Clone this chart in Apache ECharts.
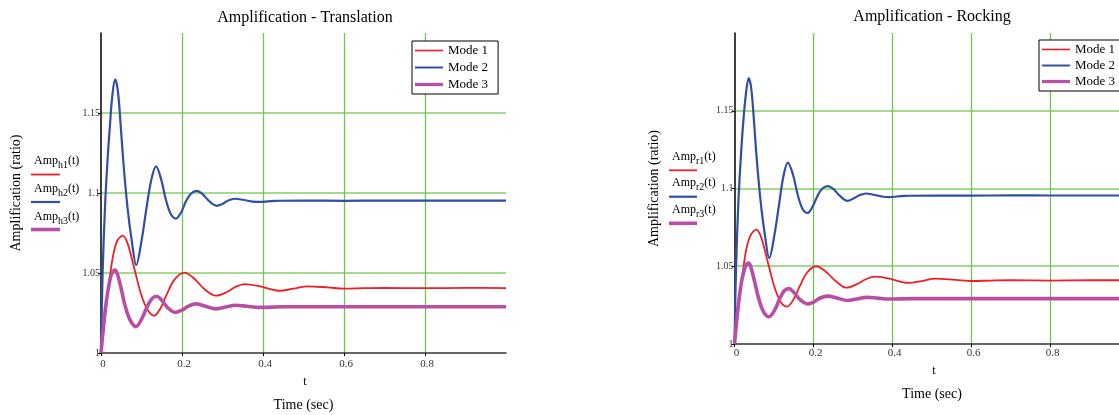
<!DOCTYPE html>
<html>
<head>
<meta charset="utf-8">
<script src="https://cdn.jsdelivr.net/npm/echarts@6/dist/echarts.min.js"></script>
<style>
html, body { margin: 0; padding: 0; background: #fff; }
#chart { width: 1119px; height: 415px; }
</style>
</head>
<body>
<div id="chart"></div>
<script>
// legend names + tick labels
const modeNames = ['Mode 1', 'Mode 2', 'Mode 3'];
const xTickLabels = [0, 0.2, 0.4, 0.6, 0.8];
const yTickLabels = [1, 1.05, 1.1, 1.15];

// Amplification - Translation, [t, amp]
const transMode1 = [[0,1],[0.008,1.018],[0.015,1.034],[0.022,1.048],[0.03,1.061],[0.04,1.07],[0.054,1.0733],[0.065,1.069],[0.075,1.06],[0.086,1.049],[0.1,1.036],[0.115,1.027],[0.131,1.0233],[0.147,1.028],[0.163,1.037],[0.182,1.046],[0.206,1.0502],[0.228,1.047],[0.255,1.04],[0.284,1.0358],[0.31,1.038],[0.333,1.0415],[0.355,1.0431],[0.39,1.0418],[0.44,1.0389],[0.475,1.0402],[0.51,1.0417],[0.56,1.041],[0.6,1.0402],[0.65,1.0405],[0.7,1.0407],[0.8,1.0405],[0.9,1.0407],[1,1.0406]];
const transMode2 = [[0,1],[0.004,1.05],[0.01,1.092],[0.016,1.12],[0.022,1.142],[0.028,1.161],[0.035,1.171],[0.041,1.165],[0.047,1.148],[0.055,1.12],[0.065,1.092],[0.076,1.07],[0.087,1.055],[0.1,1.07],[0.112,1.09],[0.124,1.108],[0.136,1.1166],[0.148,1.109],[0.16,1.096],[0.172,1.087],[0.185,1.084],[0.198,1.088],[0.21,1.095],[0.222,1.0995],[0.236,1.1013],[0.25,1.0995],[0.262,1.0962],[0.275,1.0932],[0.286,1.092],[0.3,1.0932],[0.314,1.0953],[0.33,1.0964],[0.35,1.0958],[0.37,1.0948],[0.39,1.0944],[0.43,1.0951],[0.5,1.0953],[0.6,1.0951],[0.7,1.0953],[0.8,1.0952],[0.9,1.0953],[1,1.0952]];
const transMode3 = [[0,1],[0.006,1.016],[0.012,1.03],[0.02,1.043],[0.027,1.05],[0.035,1.0518],[0.042,1.048],[0.05,1.04],[0.06,1.029],[0.072,1.0205],[0.086,1.0165],[0.1,1.021],[0.114,1.029],[0.126,1.034],[0.137,1.0355],[0.15,1.033],[0.165,1.0282],[0.184,1.0254],[0.2,1.0268],[0.216,1.0293],[0.234,1.0307],[0.258,1.0292],[0.284,1.0276],[0.308,1.0287],[0.332,1.0298],[0.36,1.0292],[0.39,1.0285],[0.45,1.0289],[0.55,1.0289],[0.7,1.0289],[0.85,1.0289],[1,1.0289]];

// Amplification - Rocking, [t, amp]
const rockMode1 = [[0,1],[0.008,1.018],[0.015,1.034],[0.022,1.048],[0.03,1.061],[0.041,1.07],[0.056,1.0736],[0.067,1.069],[0.077,1.06],[0.088,1.049],[0.102,1.036],[0.117,1.027],[0.133,1.024],[0.149,1.0285],[0.165,1.037],[0.184,1.046],[0.207,1.05],[0.229,1.047],[0.256,1.0405],[0.284,1.0362],[0.31,1.0385],[0.334,1.0418],[0.357,1.0433],[0.392,1.042],[0.44,1.0393],[0.475,1.0405],[0.508,1.042],[0.56,1.0412],[0.6,1.0405],[0.65,1.0408],[0.7,1.041],[0.8,1.0408],[0.9,1.041],[1,1.041]];
const rockMode2 = [[0,1],[0.004,1.05],[0.01,1.092],[0.016,1.12],[0.022,1.142],[0.029,1.161],[0.036,1.171],[0.042,1.165],[0.048,1.148],[0.056,1.12],[0.066,1.092],[0.077,1.07],[0.088,1.0553],[0.101,1.07],[0.113,1.09],[0.124,1.108],[0.135,1.1167],[0.148,1.109],[0.16,1.096],[0.172,1.087],[0.185,1.0843],[0.198,1.0885],[0.21,1.0952],[0.222,1.0998],[0.236,1.1015],[0.25,1.0998],[0.262,1.0965],[0.275,1.0934],[0.286,1.0921],[0.3,1.0934],[0.316,1.0956],[0.333,1.0968],[0.352,1.096],[0.372,1.0949],[0.39,1.0944],[0.43,1.0953],[0.5,1.0955],[0.6,1.0954],[0.7,1.0956],[0.8,1.0955],[0.9,1.0955],[1,1.0955]];
const rockMode3 = [[0,1],[0.006,1.016],[0.012,1.03],[0.02,1.043],[0.028,1.05],[0.036,1.052],[0.043,1.048],[0.051,1.04],[0.061,1.0295],[0.073,1.021],[0.087,1.0175],[0.101,1.0215],[0.115,1.0295],[0.126,1.0342],[0.137,1.0356],[0.15,1.0333],[0.166,1.0285],[0.186,1.0258],[0.202,1.0272],[0.217,1.0296],[0.236,1.0308],[0.26,1.0295],[0.286,1.028],[0.31,1.029],[0.335,1.03],[0.362,1.0295],[0.39,1.0289],[0.45,1.0292],[0.55,1.0292],[0.7,1.0292],[0.85,1.0292],[1,1.0292]];

const serif = "'Liberation Serif', 'Times New Roman', serif";
const colors = ['#ee1f26', '#2f4fa6', '#b94fa5'];
const widths = [1.8, 2.2, 3.6];

const chart = echarts.init(document.getElementById('chart'));

function xAxisFor(gi, labelMargin, nameGap) {
  return {
    type: 'value', gridIndex: gi, min: 0, max: 1, interval: 0.2,
    name: 'Time (sec)', nameLocation: 'middle', nameGap: nameGap,
    nameTextStyle: { fontFamily: serif, fontSize: 14, color: '#000' },
    axisLine: { show: true, onZero: false, lineStyle: { color: '#333', width: 1.5 } },
    axisTick: { show: true, length: 3, customValues: xTickLabels, lineStyle: { color: '#000' } },
    axisLabel: {
      fontFamily: serif, fontSize: 11, color: '#333', margin: labelMargin, padding: [0, 0, 0, 4],
      customValues: xTickLabels,
      formatter: v => String(+(+v).toFixed(2))
    },
    splitLine: { show: true, showMinLine: false, lineStyle: { color: '#72c452', width: 1.3 } }
  };
}

function yAxisFor(gi, nameGap) {
  return {
    type: 'value', gridIndex: gi, min: 1, max: 1.2, interval: 0.05,
    name: 'Amplification (ratio)', nameLocation: 'middle', nameGap: nameGap, nameRotate: 90,
    nameTextStyle: { fontFamily: serif, fontSize: 14, color: '#000' },
    axisLine: { show: true, onZero: false, lineStyle: { color: '#000', width: 1.5 } },
    axisTick: { show: true, length: 3, customValues: yTickLabels, lineStyle: { color: '#000' } },
    axisLabel: {
      fontFamily: serif, fontSize: 10, color: '#333', margin: 1, padding: [5, 0, 0, 0],
      customValues: yTickLabels,
      formatter: v => String(+(+v).toFixed(2))
    },
    splitLine: { show: true, showMinLine: false, lineStyle: { color: '#a3db8c', width: 2 } }
  };
}

function seriesFor(gi, datas) {
  return datas.map((d, i) => ({
    type: 'line', name: modeNames[i], xAxisIndex: gi, yAxisIndex: gi,
    data: d, symbol: 'none', showSymbol: false, smooth: 0.35,
    color: colors[i],
    lineStyle: { color: colors[i], width: widths[i] },
    z: 2 + i
  }));
}

function legendFor(left, top, gap) {
  return {
    orient: 'vertical', left: left, top: top, selectedMode: false,
    itemWidth: 28, itemHeight: 14, itemGap: gap,
    padding: [3, 10, 3, 3],
    borderColor: '#000', borderWidth: 1, backgroundColor: '#fff',
    textStyle: { fontFamily: serif, fontSize: 13, color: '#000' },
    data: modeNames.map((n, i) => ({
      name: n,
      icon: 'path://M0,0H28V' + (widths[i] * 0.9).toFixed(2) + 'H0Z',
      itemStyle: { color: colors[i], borderWidth: 0 }
    }))
  };
}

// "Amp_xn(t)" labels with short line samples, left of the plot
function ampLabels(x, ys, subs, lineX, lineYs) {
  const out = [];
  subs.forEach((s, i) => {
    out.push({
      type: 'text', x: x, y: ys[i],
      style: {
        text: '{m|Amp}{s|' + s + '}{m|(t)}',
        align: 'left', verticalAlign: 'middle',
        rich: {
          m: { fontFamily: serif, fontSize: 12, fill: '#000' },
          s: { fontFamily: serif, fontSize: 10, fill: '#000', padding: [9, 0, 0, 0] }
        }
      }
    });
    out.push({
      type: 'line',
      shape: { x1: lineX[0], y1: lineYs[i], x2: lineX[1], y2: lineYs[i] },
      style: { stroke: colors[i], lineWidth: widths[i] }
    });
  });
  return out;
}

chart.setOption({
  animation: false,
  backgroundColor: '#fff',
  title: [
    { text: 'Amplification - Translation', left: 305, top: 10, textAlign: 'center', padding: 0,
      textStyle: { fontFamily: serif, fontSize: 16, fontWeight: 'normal', color: '#000' } },
    { text: 'Amplification - Rocking', left: 932, top: 9, textAlign: 'center', padding: 0,
      textStyle: { fontFamily: serif, fontSize: 16, fontWeight: 'normal', color: '#000' } }
  ],
  grid: [
    { left: 101, top: 33, width: 405, height: 320, outerBoundsMode: 'none', containLabel: false },
    { left: 734.5, top: 33, width: 395, height: 311, outerBoundsMode: 'none', containLabel: false }
  ],
  xAxis: [xAxisFor(0, 6, 45), xAxisFor(1, 4, 43)],
  yAxis: [yAxisFor(0, 78), yAxisFor(1, 73)],
  legend: [legendFor(412, 41, 4), legendFor(1039, 40, 3)],
  series: seriesFor(0, [transMode1, transMode2, transMode3])
    .concat(seriesFor(1, [rockMode1, rockMode2, rockMode3])),
  graphic: [
    { type: 'text', x: 305, y: 382, style: { text: 't', fontFamily: serif, fontSize: 12, fill: '#000', align: 'center', verticalAlign: 'middle' } },
    { type: 'text', x: 934, y: 371, style: { text: 't', fontFamily: serif, fontSize: 12, fill: '#000', align: 'center', verticalAlign: 'middle' } }
  ].concat(
    ampLabels(34, [161, 189, 217], ['h1', 'h2', 'h3'], [31, 60], [174.5, 202, 229.5]),
    ampLabels(672, [156.5, 182.5, 209.5], ['r1', 'r2', 'r3'], [669, 697], [170.3, 196.7, 223.3])
  )
});
</script>
</body>
</html>
